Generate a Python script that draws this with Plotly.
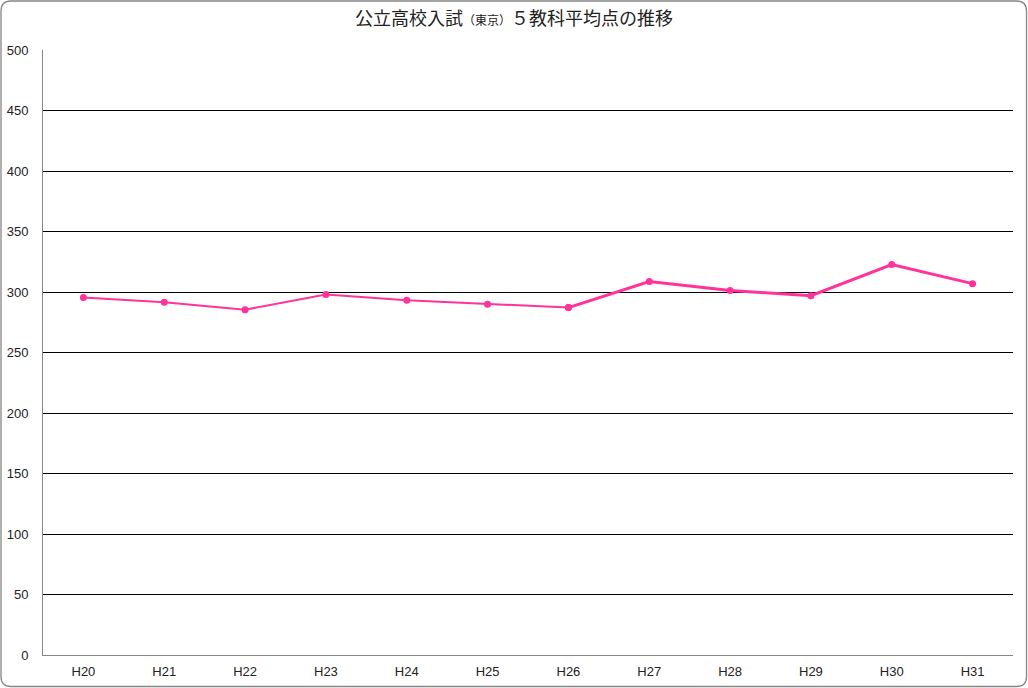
import plotly.graph_objects as go

categories = ["H20", "H21", "H22", "H23", "H24", "H25", "H26", "H27", "H28", "H29", "H30", "H31"]
scores = [295.4, 291.5, 285.4, 297.9, 293.2, 289.9, 287.1, 308.6, 301.2, 297.0, 322.7, 306.9]
y_ticks = [0, 50, 100, 150, 200, 250, 300, 350, 400, 450, 500]
title_text = "公立高校入試<span style='font-size:12px'>（東京）</span>５教科平均点の推移"

W, H = 1028, 688
L, R, T, B = 43, 15, 50, 33
pw, ph = W - L - R, H - T - B

fig = go.Figure()
fig.add_trace(go.Scatter(
    x=categories[:7], y=scores[:7], mode="lines+markers",
    line=dict(color="#FF3399", width=2),
    marker=dict(color="#FF3399", size=7),
    showlegend=False, hoverinfo="skip",
))
fig.add_trace(go.Scatter(
    x=categories[6:], y=scores[6:], mode="lines+markers",
    line=dict(color="#FF3399", width=3),
    marker=dict(color="#FF3399", size=7),
    showlegend=False,
))

# rounded border around the whole chart (paper coords)
def px(x):
    return (x - L) / pw

def py(y):
    return 1 - (y - T) / ph

x0, x1, y0, y1, r = 1, W - 1.5, 1, H - 1.5, 10
path = (
    f"M {px(x0 + r)} {py(y0)} L {px(x1 - r)} {py(y0)} Q {px(x1)} {py(y0)} {px(x1)} {py(y0 + r)} "
    f"L {px(x1)} {py(y1 - r)} Q {px(x1)} {py(y1)} {px(x1 - r)} {py(y1)} "
    f"L {px(x0 + r)} {py(y1)} Q {px(x0)} {py(y1)} {px(x0)} {py(y1 - r)} "
    f"L {px(x0)} {py(y0 + r)} Q {px(x0)} {py(y0)} {px(x0 + r)} {py(y0)} Z"
)

fig.update_layout(
    width=W, height=H,
    margin=dict(l=L, r=R, t=T, b=B, autoexpand=False),
    paper_bgcolor="white", plot_bgcolor="white",
    title=dict(text=title_text, x=0.5, xanchor="center", y=1 - 19 / H, yanchor="middle",
               font=dict(family="Noto Sans CJK JP", size=18, color="#222222")),
    font=dict(family="Liberation Sans, Arial", size=13, color="#222222"),
    xaxis=dict(type="category", range=[-0.5, 11.5], showgrid=False, automargin=False,
               showline=True, linecolor="#868686", linewidth=1,
               ticks="", ticklabelstandoff=4, tickfont=dict(size=13), fixedrange=True),
    yaxis=dict(range=[0, 500], tickvals=y_ticks, showgrid=True, gridcolor="black", gridwidth=1,
               showline=True, linecolor="#868686", linewidth=1, zeroline=False, automargin=False,
               ticks="", ticklabelstandoff=11, tickfont=dict(size=13), fixedrange=True),
    shapes=[dict(type="path", xref="paper", yref="paper", path=path,
                 line=dict(color="#868686", width=1.3), layer="above")],
)

fig.write_html(
    "out.html",
    config={"displayModeBar": False},
    post_script="document.body.style.margin='0';document.body.style.padding='0';document.body.style.overflow='hidden';",
)
